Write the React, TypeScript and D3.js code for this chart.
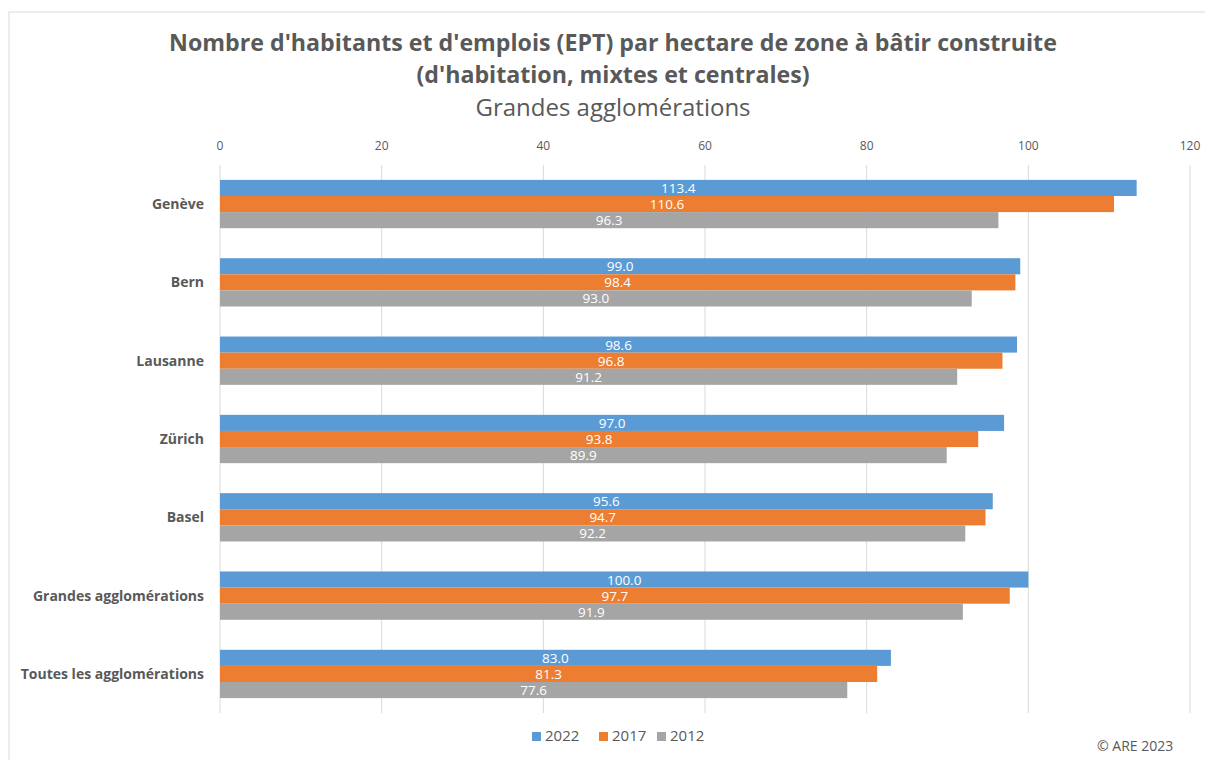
import React from "react";
import * as d3 from "d3";

const categories = ["Genève", "Bern", "Lausanne", "Zürich", "Basel", "Grandes agglomérations", "Toutes les agglomérations"];
const series = ["2022", "2017", "2012"];
const values2022 = [113.4, 99.0, 98.6, 97.0, 95.6, 100.0, 83.0];
const values2017 = [110.6, 98.4, 96.8, 93.8, 94.7, 97.7, 81.3];
const values2012 = [96.3, 93.0, 91.2, 89.9, 92.2, 91.9, 77.6];
const xTicks = [0, 20, 40, 60, 80, 100, 120];
const colors = ["#5B9BD5", "#ED7D31", "#A5A5A5"];

const W = 1205, H = 760;
const font = "'Open Sans', sans-serif";

export default function App() {
  const x = d3.scaleLinear().domain([0, 120]).range([220, 1190]);
  const y = d3.scaleBand().domain(categories).range([165, 713]).paddingInner(0.383).paddingOuter(0.19);
  const inner = d3.scaleBand().domain(series).range([0, y.bandwidth()]);
  const allVals = [values2022, values2017, values2012];
  const legendX = [532, 599, 657];
  return (
    <svg width={W} height={H} style={{ position: "absolute", left: 0, top: 0, background: "#fff" }}>
      <rect x={9} y={12} width={1300} height={800} fill="#fff" stroke="#d9d9d9" strokeWidth={1} />
      <text x={613} y={51} textAnchor="middle" fontFamily={font} fontWeight="bold" fontSize={23.2} fill="#595959">Nombre d'habitants et d'emplois (EPT) par hectare de zone à bâtir construite</text>
      <text x={613} y={83} textAnchor="middle" fontFamily={font} fontWeight="bold" fontSize={23.2} fill="#595959">(d'habitation, mixtes et centrales)</text>
      <text x={613} y={116} textAnchor="middle" fontFamily={font} fontSize={24} fill="#595959">Grandes agglomérations</text>
      {xTicks.map(t => (
        <g key={t}>
          <line x1={x(t)} x2={x(t)} y1={165} y2={713} stroke="#d9d9d9" strokeWidth={1} />
          <text x={x(t)} y={150} textAnchor="middle" fontFamily={font} fontSize={12} fill="#595959">{t}</text>
        </g>
      ))}
      {categories.map((c, i) => (
        <g key={c}>
          <text x={204} y={(y(c) as number) + y.bandwidth() / 2 + 5} textAnchor="end" fontFamily={font} fontWeight="bold" fontSize={14} fill="#595959">{c}</text>
          {series.map((s, j) => {
            const v = allVals[j][i];
            const by = (y(c) as number) + (inner(s) as number);
            return (
              <g key={s}>
                <rect x={x(0)} y={by} width={x(v) - x(0)} height={inner.bandwidth()} fill={colors[j]} />
                <text x={(x(0) + x(v)) / 2} y={by + inner.bandwidth() / 2 + 5} textAnchor="middle" fontFamily={font} fontSize={13.5} fill="#fff">{v.toFixed(1)}</text>
              </g>
            );
          })}
        </g>
      ))}
      {series.map((s, j) => (
        <g key={s}>
          <rect x={legendX[j]} y={732} width={9} height={9} fill={colors[j]} />
          <text x={legendX[j] + 13} y={741} fontFamily={font} fontSize={15} fill="#595959">{s}</text>
        </g>
      ))}
      <text x={1097} y={751} fontFamily={font} fontSize={14} fill="#595959">© ARE 2023</text>
    </svg>
  );
}
